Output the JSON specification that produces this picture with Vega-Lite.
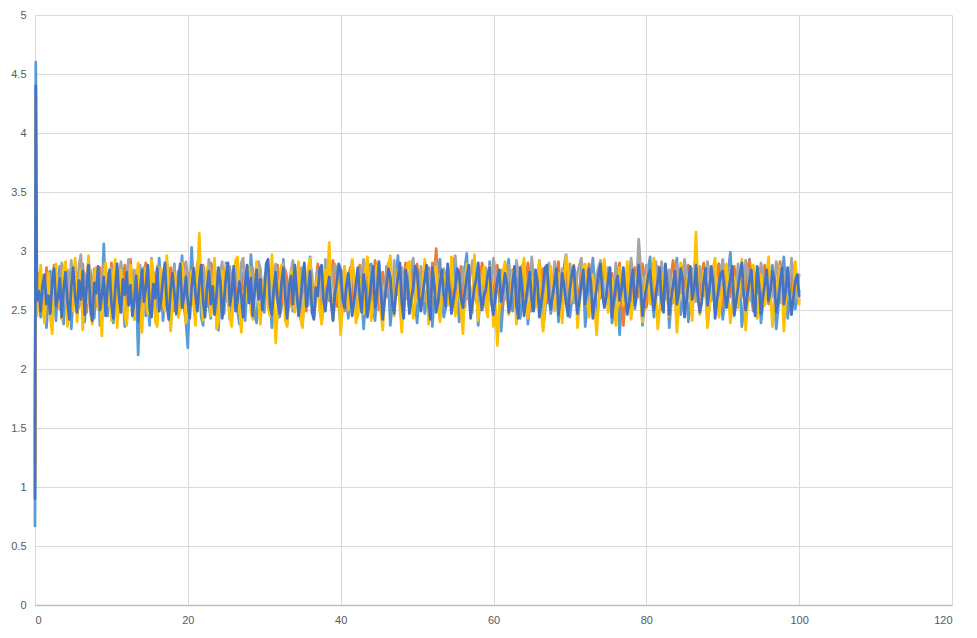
{
  "$schema": "https://vega.github.io/schema/vega-lite/v6.json",
  "width": 917,
  "height": 590,
  "autosize": {"type": "none"},
  "padding": {"left": 35, "top": 15, "right": 25, "bottom": 33},
  "background": "white",
  "config": {"view": {"stroke": null}},
  "data": {"values": [
{"x":0,"a":0.67,"b":1.2,"c":1.5,"d":1.0,"e":0.9},
{"x":0.1,"a":4.6,"b":3.5,"c":3.3,"d":4.3,"e":4.4},
{"x":0.25,"a":2.52,"b":2.66,"c":2.71,"d":2.45,"e":2.58},
{"x":0.5,"a":2.61,"b":2.81,"c":2.58,"d":2.70,"e":2.66},
{"x":0.75,"a":2.44,"b":2.57,"c":2.80,"d":2.88,"e":2.49},
{"x":1.0,"a":2.79,"b":2.73,"c":2.63,"d":2.52,"e":2.71},
{"x":1.25,"a":2.70,"b":2.49,"c":2.75,"d":2.39,"e":2.80},
{"x":1.5,"a":2.35,"b":2.86,"c":2.54,"d":2.67,"e":2.55},
{"x":1.75,"a":2.58,"b":2.62,"c":2.82,"d":2.81,"e":2.62},
{"x":2.0,"a":2.83,"b":2.54,"c":2.69,"d":2.44,"e":2.47},
{"x":2.25,"a":2.49,"b":2.77,"c":2.57,"d":2.30,"e":2.74},
{"x":2.5,"a":2.66,"b":2.88,"c":2.86,"d":2.73,"e":2.85},
{"x":2.75,"a":2.41,"b":2.59,"c":2.64,"d":2.89,"e":2.53},
{"x":3.0,"a":2.74,"b":2.70,"c":2.78,"d":2.55,"e":2.60},
{"x":3.25,"a":2.87,"b":2.51,"c":2.60,"d":2.62,"e":2.77},
{"x":3.5,"a":2.53,"b":2.83,"c":2.90,"d":2.42,"e":2.44},
{"x":3.75,"a":2.38,"b":2.66,"c":2.71,"d":2.85,"e":2.68},
{"x":4.0,"a":2.69,"b":2.78,"c":2.55,"d":2.91,"e":2.82},
{"x":4.25,"a":2.56,"b":2.46,"c":2.84,"d":2.36,"e":2.57},
{"x":4.5,"a":2.81,"b":2.72,"c":2.66,"d":2.58,"e":2.42},
{"x":4.75,"a":2.34,"b":2.85,"c":2.92,"d":2.77,"e":2.70},
{"x":5.0,"a":2.62,"b":2.55,"c":2.59,"d":2.49,"e":2.86},
{"x":5.25,"a":2.90,"b":2.69,"c":2.76,"d":2.94,"e":2.61},
{"x":5.5,"a":2.47,"b":2.80,"c":2.63,"d":2.40,"e":2.48},
{"x":5.75,"a":2.72,"b":2.52,"c":2.87,"d":2.68,"e":2.75},
{"x":6.0,"a":2.55,"b":2.75,"c":2.97,"d":2.83,"e":2.59},
{"x":6.25,"a":2.84,"b":2.89,"c":2.68,"d":2.33,"e":2.83},
{"x":6.5,"a":2.40,"b":2.60,"c":2.81,"d":2.71,"e":2.46},
{"x":6.75,"a":2.65,"b":2.48,"c":2.58,"d":2.56,"e":2.69},
{"x":7.0,"a":2.93,"b":2.71,"c":2.95,"d":2.96,"e":2.88},
{"x":7.25,"a":2.50,"b":2.84,"c":2.74,"d":2.47,"e":2.52},
{"x":7.5,"a":2.77,"b":2.63,"c":2.62,"d":2.38,"e":2.41},
{"x":7.75,"a":2.43,"b":2.79,"c":2.85,"d":2.79,"e":2.73},
{"x":8.0,"a":2.68,"b":2.53,"c":2.70,"d":2.86,"e":2.64},
{"x":8.25,"a":2.86,"b":2.68,"c":2.56,"d":2.51,"e":2.87},
{"x":8.5,"a":2.37,"b":2.86,"c":2.79,"d":2.64,"e":2.50},
{"x":8.75,"a":2.59,"b":2.58,"c":2.66,"d":2.28,"e":2.62},
{"x":9.0,"a":3.06,"b":2.74,"c":2.89,"d":2.75,"e":2.78},
{"x":9.25,"a":2.62,"b":2.50,"c":2.61,"d":2.90,"e":2.45},
{"x":9.5,"a":2.45,"b":2.81,"c":2.77,"d":2.54,"e":2.70},
{"x":9.75,"a":2.76,"b":2.67,"c":2.55,"d":2.69,"e":2.84},
{"x":10.0,"a":2.83,"b":2.90,"c":2.86,"d":2.41,"e":2.56},
{"x":10.25,"a":2.39,"b":2.56,"c":2.68,"d":2.80,"e":2.43},
{"x":10.5,"a":2.57,"b":2.72,"c":2.83,"d":2.93,"e":2.67},
{"x":10.75,"a":2.71,"b":2.47,"c":2.59,"d":2.35,"e":2.89},
{"x":11.0,"a":2.48,"b":2.83,"c":2.74,"d":2.61,"e":2.60},
{"x":11.25,"a":2.88,"b":2.62,"c":2.91,"d":2.84,"e":2.48},
{"x":11.5,"a":2.63,"b":2.76,"c":2.65,"d":2.72,"e":2.76},
{"x":11.75,"a":2.36,"b":2.88,"c":2.57,"d":2.46,"e":2.63},
{"x":12.0,"a":2.54,"b":2.55,"c":2.80,"d":2.37,"e":2.82},
{"x":12.25,"a":2.79,"b":2.69,"c":2.93,"d":2.66,"e":2.54},
{"x":12.5,"a":2.91,"b":2.93,"c":2.70,"d":2.88,"e":2.71},
{"x":12.75,"a":2.50,"b":2.61,"c":2.58,"d":2.59,"e":2.45},
{"x":13.0,"a":2.42,"b":2.48,"c":2.84,"d":2.42,"e":2.58},
{"x":13.25,"a":2.67,"b":2.78,"c":2.67,"d":2.75,"e":2.79},
{"x":13.5,"a":2.12,"b":2.84,"c":2.55,"d":2.90,"e":2.40},
{"x":13.75,"a":2.58,"b":2.64,"c":2.88,"d":2.53,"e":2.66},
{"x":14.0,"a":2.74,"b":2.52,"c":2.76,"d":2.31,"e":2.84},
{"x":14.25,"a":2.86,"b":2.79,"c":2.61,"d":2.68,"e":2.57},
{"x":14.5,"a":2.45,"b":2.90,"c":2.50,"d":2.86,"e":2.69},
{"x":14.75,"a":2.61,"b":2.58,"c":2.82,"d":2.47,"e":2.88},
{"x":15.0,"a":2.37,"b":2.70,"c":2.72,"d":2.62,"e":2.51},
{"x":15.25,"a":2.80,"b":2.47,"c":2.94,"d":2.92,"e":2.44},
{"x":15.5,"a":2.69,"b":2.82,"c":2.63,"d":2.78,"e":2.72},
{"x":15.75,"a":2.48,"b":2.66,"c":2.56,"d":2.40,"e":2.60},
{"x":16.0,"a":2.55,"b":2.87,"c":2.79,"d":2.36,"e":2.85},
{"x":16.25,"a":2.94,"b":2.59,"c":2.87,"d":2.73,"e":2.49},
{"x":16.5,"a":2.72,"b":2.74,"c":2.66,"d":2.85,"e":2.58},
{"x":16.75,"a":2.41,"b":2.51,"c":2.59,"d":2.57,"e":2.77},
{"x":17.0,"a":2.63,"b":2.80,"c":2.83,"d":2.49,"e":2.90},
{"x":17.25,"a":2.84,"b":2.68,"c":2.92,"d":2.96,"e":2.55},
{"x":17.5,"a":2.52,"b":2.60,"c":2.70,"d":2.64,"e":2.42},
{"x":17.75,"a":2.36,"b":2.86,"c":2.61,"d":2.32,"e":2.68},
{"x":18.0,"a":2.70,"b":2.73,"c":2.78,"d":2.58,"e":2.81},
{"x":18.25,"a":2.89,"b":2.49,"c":2.88,"d":2.81,"e":2.63},
{"x":18.5,"a":2.46,"b":2.64,"c":2.57,"d":2.69,"e":2.47},
{"x":18.75,"a":2.58,"b":2.83,"c":2.73,"d":2.44,"e":2.74},
{"x":19.0,"a":2.77,"b":2.57,"c":2.64,"d":2.51,"e":2.89},
{"x":19.25,"a":2.96,"b":2.77,"c":2.85,"d":2.90,"e":2.52},
{"x":19.5,"a":2.53,"b":2.89,"c":2.60,"d":2.76,"e":2.61},
{"x":19.75,"a":2.40,"b":2.62,"c":2.91,"d":2.39,"e":2.78},
{"x":20.0,"a":2.18,"b":2.81,"c":2.78,"d":2.46,"e":2.56},
{"x":20.25,"a":2.65,"b":2.55,"c":2.62,"d":2.67,"e":2.43},
{"x":20.5,"a":3.03,"b":2.70,"c":2.55,"d":2.83,"e":2.70},
{"x":20.75,"a":2.71,"b":2.86,"c":2.84,"d":2.55,"e":2.85},
{"x":21.0,"a":2.49,"b":2.52,"c":2.71,"d":2.37,"e":2.64},
{"x":21.25,"a":2.62,"b":2.67,"c":2.90,"d":2.79,"e":2.49},
{"x":21.5,"a":2.82,"b":2.79,"c":2.59,"d":3.15,"e":2.73},
{"x":21.75,"a":2.44,"b":2.61,"c":2.66,"d":2.62,"e":2.88},
{"x":22.0,"a":2.37,"b":2.88,"c":2.86,"d":2.41,"e":2.57},
{"x":22.25,"a":2.68,"b":2.74,"c":2.74,"d":2.52,"e":2.44},
{"x":22.5,"a":2.78,"b":2.53,"c":2.61,"d":2.86,"e":2.68},
{"x":22.75,"a":2.55,"b":2.65,"c":2.93,"d":2.73,"e":2.83},
{"x":23.0,"a":2.43,"b":2.90,"c":2.80,"d":2.45,"e":2.55},
{"x":23.25,"a":2.86,"b":2.78,"c":2.67,"d":2.59,"e":2.70},
{"x":23.5,"a":2.91,"b":2.56,"c":2.58,"d":2.94,"e":2.46},
{"x":23.75,"a":2.51,"b":2.72,"c":2.75,"d":2.34,"e":2.62},
{"x":24.0,"a":2.33,"b":2.85,"c":2.55,"d":2.40,"e":2.86},
{"x":24.25,"a":2.60,"b":2.63,"c":2.82,"d":2.71,"e":2.75},
{"x":24.5,"a":2.73,"b":2.50,"c":2.91,"d":2.83,"e":2.43},
{"x":24.75,"a":2.47,"b":2.76,"c":2.64,"d":2.56,"e":2.59},
{"x":25.0,"a":2.90,"b":2.87,"c":2.57,"d":2.88,"e":2.78},
{"x":25.25,"a":2.66,"b":2.69,"c":2.79,"d":2.61,"e":2.90},
{"x":25.5,"a":2.42,"b":2.54,"c":2.87,"d":2.43,"e":2.54},
{"x":25.75,"a":2.57,"b":2.81,"c":2.69,"d":2.36,"e":2.65},
{"x":26.0,"a":2.79,"b":2.70,"c":2.56,"d":2.74,"e":2.87},
{"x":26.25,"a":2.84,"b":2.58,"c":2.84,"d":2.92,"e":2.49},
{"x":26.5,"a":2.50,"b":2.89,"c":2.73,"d":2.95,"e":2.58},
{"x":26.75,"a":2.38,"b":2.64,"c":2.62,"d":2.50,"e":2.74},
{"x":27.0,"a":2.82,"b":2.77,"c":2.90,"d":2.31,"e":2.63},
{"x":27.25,"a":2.63,"b":2.51,"c":2.94,"d":2.66,"e":2.44},
{"x":27.5,"a":2.41,"b":2.68,"c":2.66,"d":2.58,"e":2.71},
{"x":27.75,"a":2.70,"b":2.84,"c":2.57,"d":2.80,"e":2.88},
{"x":28.0,"a":2.59,"b":2.73,"c":2.81,"d":2.87,"e":2.56},
{"x":28.25,"a":2.97,"b":2.55,"c":2.69,"d":2.48,"e":2.77},
{"x":28.5,"a":2.76,"b":2.49,"c":2.86,"d":2.42,"e":2.45},
{"x":28.75,"a":2.45,"b":2.80,"c":2.61,"d":2.69,"e":2.67},
{"x":29.0,"a":2.39,"b":2.66,"c":2.74,"d":2.91,"e":2.84},
{"x":29.25,"a":2.68,"b":2.90,"c":2.91,"d":2.56,"e":2.59},
{"x":29.5,"a":2.83,"b":2.62,"c":2.85,"d":2.38,"e":2.76},
{"x":29.75,"a":2.54,"b":2.75,"c":2.60,"d":2.64,"e":2.50},
{"x":30.0,"a":2.48,"b":2.56,"c":2.54,"d":2.77,"e":2.62},
{"x":30.25,"a":2.74,"b":2.83,"c":2.72,"d":2.83,"e":2.89},
{"x":30.5,"a":2.88,"b":2.71,"c":2.83,"d":2.52,"e":2.93},
{"x":30.75,"a":2.61,"b":2.60,"c":2.65,"d":2.45,"e":2.54},
{"x":31.0,"a":2.35,"b":2.50,"c":2.59,"d":2.97,"e":2.46},
{"x":31.25,"a":2.58,"b":2.79,"c":2.80,"d":2.60,"e":2.69},
{"x":31.5,"a":2.72,"b":2.66,"c":2.89,"d":2.22,"e":2.82},
{"x":31.75,"a":2.85,"b":2.88,"c":2.68,"d":2.51,"e":2.57},
{"x":32.0,"a":2.44,"b":2.58,"c":2.58,"d":2.74,"e":2.47},
{"x":32.25,"a":2.52,"b":2.73,"c":2.77,"d":2.88,"e":2.73},
{"x":32.5,"a":2.93,"b":2.55,"c":2.90,"d":2.79,"e":2.86},
{"x":32.75,"a":2.67,"b":2.84,"c":2.71,"d":2.41,"e":2.61},
{"x":33.0,"a":2.38,"b":2.76,"c":2.55,"d":2.36,"e":2.43},
{"x":33.25,"a":2.63,"b":2.52,"c":2.64,"d":2.69,"e":2.70},
{"x":33.5,"a":2.78,"b":2.67,"c":2.83,"d":2.83,"e":2.79},
{"x":33.75,"a":2.49,"b":2.90,"c":2.92,"d":2.56,"e":2.55},
{"x":34.0,"a":2.57,"b":2.81,"c":2.74,"d":2.48,"e":2.88},
{"x":34.25,"a":2.80,"b":2.59,"c":2.61,"d":2.78,"e":2.64},
{"x":34.5,"a":2.87,"b":2.69,"c":2.57,"d":2.91,"e":2.45},
{"x":34.75,"a":2.43,"b":2.85,"c":2.79,"d":2.44,"e":2.58},
{"x":35.0,"a":2.36,"b":2.74,"c":2.86,"d":2.35,"e":2.77},
{"x":35.25,"a":2.66,"b":2.56,"c":2.68,"d":2.62,"e":2.90},
{"x":35.5,"a":2.71,"b":2.49,"c":2.59,"d":2.70,"e":2.53},
{"x":35.75,"a":2.54,"b":2.78,"c":2.73,"d":2.86,"e":2.66},
{"x":36.0,"a":2.95,"b":2.83,"c":2.91,"d":2.94,"e":2.83},
{"x":36.25,"a":2.62,"b":2.63,"c":2.80,"d":2.55,"e":2.48},
{"x":36.5,"a":2.45,"b":2.57,"c":2.56,"d":2.43,"e":2.42},
{"x":36.75,"a":2.58,"b":2.72,"c":2.65,"d":2.68,"e":2.69},
{"x":37.0,"a":2.81,"b":2.89,"c":2.84,"d":2.79,"e":2.62},
{"x":37.25,"a":2.69,"b":2.75,"c":2.77,"d":2.50,"e":2.85},
{"x":37.5,"a":2.40,"b":2.51,"c":2.62,"d":2.38,"e":2.88},
{"x":37.75,"a":2.53,"b":2.66,"c":2.55,"d":2.63,"e":2.59},
{"x":38.0,"a":2.67,"b":2.82,"c":2.93,"d":2.84,"e":2.49},
{"x":38.25,"a":2.84,"b":2.70,"c":2.72,"d":2.71,"e":2.67},
{"x":38.5,"a":2.90,"b":2.58,"c":2.60,"d":3.07,"e":2.78},
{"x":38.75,"a":2.59,"b":2.77,"c":2.66,"d":2.60,"e":2.56},
{"x":39.0,"a":2.47,"b":2.92,"c":2.81,"d":2.42,"e":2.41},
{"x":39.25,"a":2.71,"b":2.69,"c":2.89,"d":2.57,"e":2.63},
{"x":39.5,"a":2.85,"b":2.53,"c":2.83,"d":2.80,"e":2.74},
{"x":39.75,"a":2.56,"b":2.64,"c":2.68,"d":2.66,"e":2.89},
{"x":40.0,"a":2.36,"b":2.84,"c":2.58,"d":2.29,"e":2.84},
{"x":40.25,"a":2.64,"b":2.74,"c":2.76,"d":2.53,"e":2.60},
{"x":40.5,"a":2.77,"b":2.49,"c":2.87,"d":2.87,"e":2.52},
{"x":40.75,"a":2.60,"b":2.60,"c":2.64,"d":2.75,"e":2.70},
{"x":41.0,"a":2.43,"b":2.78,"c":2.55,"d":2.50,"e":2.81},
{"x":41.25,"a":2.68,"b":2.86,"c":2.82,"d":2.64,"e":2.64},
{"x":41.5,"a":2.92,"b":2.67,"c":2.91,"d":2.93,"e":2.45},
{"x":41.75,"a":2.74,"b":2.56,"c":2.74,"d":2.81,"e":2.58},
{"x":42.0,"a":2.51,"b":2.63,"c":2.62,"d":2.39,"e":2.72},
{"x":42.25,"a":2.46,"b":2.79,"c":2.70,"d":2.46,"e":2.86},
{"x":42.5,"a":2.82,"b":2.88,"c":2.85,"d":2.76,"e":2.61},
{"x":42.75,"a":2.65,"b":2.70,"c":2.79,"d":2.60,"e":2.48},
{"x":43.0,"a":2.34,"b":2.52,"c":2.93,"d":2.47,"e":2.80},
{"x":43.25,"a":2.57,"b":2.66,"c":2.71,"d":2.85,"e":2.69},
{"x":43.5,"a":2.70,"b":2.83,"c":2.59,"d":2.95,"e":2.44},
{"x":43.75,"a":2.88,"b":2.74,"c":2.66,"d":2.68,"e":2.57},
{"x":44.0,"a":2.89,"b":2.58,"c":2.86,"d":2.41,"e":2.75},
{"x":44.25,"a":2.53,"b":2.69,"c":2.75,"d":2.55,"e":2.87},
{"x":44.5,"a":2.41,"b":2.92,"c":2.56,"d":2.72,"e":2.52},
{"x":44.75,"a":2.62,"b":2.80,"c":2.68,"d":2.88,"e":2.63},
{"x":45.0,"a":2.79,"b":2.50,"c":2.89,"d":2.83,"e":2.91},
{"x":45.25,"a":2.67,"b":2.64,"c":2.77,"d":2.49,"e":2.68},
{"x":45.5,"a":2.48,"b":2.82,"c":2.63,"d":2.33,"e":2.42},
{"x":45.75,"a":2.59,"b":2.71,"c":2.58,"d":2.59,"e":2.58},
{"x":46.0,"a":2.87,"b":2.61,"c":2.82,"d":2.67,"e":2.71},
{"x":46.25,"a":2.73,"b":2.77,"c":2.90,"d":2.86,"e":2.85},
{"x":46.5,"a":2.37,"b":2.87,"c":2.61,"d":2.96,"e":2.77},
{"x":46.75,"a":2.55,"b":2.66,"c":2.55,"d":2.61,"e":2.55},
{"x":47.0,"a":2.71,"b":2.53,"c":2.92,"d":2.45,"e":2.47},
{"x":47.25,"a":2.82,"b":2.70,"c":2.71,"d":2.70,"e":2.66},
{"x":47.5,"a":2.96,"b":2.84,"c":2.63,"d":2.84,"e":2.78},
{"x":47.75,"a":2.60,"b":2.62,"c":2.78,"d":2.53,"e":2.90},
{"x":48.0,"a":2.42,"b":2.57,"c":2.86,"d":2.31,"e":2.56},
{"x":48.25,"a":2.50,"b":2.76,"c":2.70,"d":2.58,"e":2.43},
{"x":48.5,"a":2.79,"b":2.90,"c":2.59,"d":2.76,"e":2.84},
{"x":48.75,"a":2.64,"b":2.68,"c":2.65,"d":2.89,"e":2.73},
{"x":49.0,"a":2.53,"b":2.51,"c":2.81,"d":2.91,"e":2.47},
{"x":49.25,"a":2.76,"b":2.64,"c":2.88,"d":2.62,"e":2.59},
{"x":49.5,"a":2.89,"b":2.78,"c":2.94,"d":2.43,"e":2.70},
{"x":49.75,"a":2.58,"b":2.85,"c":2.73,"d":2.57,"e":2.87},
{"x":50.0,"a":2.39,"b":2.89,"c":2.60,"d":2.77,"e":2.82},
{"x":50.25,"a":2.62,"b":2.71,"c":2.69,"d":2.65,"e":2.61},
{"x":50.5,"a":2.75,"b":2.56,"c":2.87,"d":2.50,"e":2.49},
{"x":50.75,"a":2.81,"b":2.67,"c":2.76,"d":2.74,"e":2.64},
{"x":51.0,"a":2.47,"b":2.82,"c":2.57,"d":2.93,"e":2.76},
{"x":51.25,"a":2.56,"b":2.75,"c":2.64,"d":2.81,"e":2.88},
{"x":51.5,"a":2.86,"b":2.60,"c":2.83,"d":2.38,"e":2.55},
{"x":51.75,"a":2.70,"b":2.70,"c":2.72,"d":2.49,"e":2.42},
{"x":52.0,"a":2.36,"b":2.90,"c":2.66,"d":2.67,"e":2.86},
{"x":52.25,"a":2.60,"b":2.79,"c":2.80,"d":2.79,"e":2.71},
{"x":52.5,"a":2.68,"b":3.02,"c":2.91,"d":2.87,"e":2.48},
{"x":52.75,"a":2.83,"b":2.73,"c":2.68,"d":2.56,"e":2.57},
{"x":53.0,"a":2.93,"b":2.55,"c":2.60,"d":2.40,"e":2.73},
{"x":53.25,"a":2.61,"b":2.66,"c":2.75,"d":2.63,"e":2.84},
{"x":53.5,"a":2.44,"b":2.84,"c":2.85,"d":2.80,"e":2.62},
{"x":53.75,"a":2.52,"b":2.77,"c":2.71,"d":2.71,"e":2.53},
{"x":54.0,"a":2.78,"b":2.64,"c":2.58,"d":2.54,"e":2.89},
{"x":54.25,"a":2.84,"b":2.79,"c":2.65,"d":2.66,"e":2.66},
{"x":54.5,"a":2.51,"b":2.89,"c":2.82,"d":2.95,"e":2.47},
{"x":54.75,"a":2.63,"b":2.68,"c":2.90,"d":2.72,"e":2.58},
{"x":55.0,"a":2.88,"b":2.53,"c":2.96,"d":2.45,"e":2.70},
{"x":55.25,"a":2.70,"b":2.62,"c":2.77,"d":2.59,"e":2.85},
{"x":55.5,"a":2.40,"b":2.76,"c":2.62,"d":2.74,"e":2.81},
{"x":55.75,"a":2.57,"b":2.87,"c":2.69,"d":2.51,"e":2.60},
{"x":56.0,"a":2.75,"b":2.63,"c":2.86,"d":2.30,"e":2.52},
{"x":56.25,"a":2.86,"b":2.52,"c":2.73,"d":2.66,"e":2.65},
{"x":56.5,"a":2.98,"b":2.85,"c":2.59,"d":2.89,"e":2.78},
{"x":56.75,"a":2.64,"b":2.74,"c":2.68,"d":2.77,"e":2.88},
{"x":57.0,"a":2.45,"b":2.50,"c":2.81,"d":2.62,"e":2.43},
{"x":57.25,"a":2.55,"b":2.66,"c":2.92,"d":2.48,"e":2.56},
{"x":57.5,"a":2.72,"b":2.80,"c":2.66,"d":2.97,"e":2.69},
{"x":57.75,"a":2.80,"b":2.71,"c":2.57,"d":2.65,"e":2.77},
{"x":58.0,"a":2.37,"b":2.63,"c":2.88,"d":2.41,"e":2.90},
{"x":58.25,"a":2.59,"b":2.77,"c":2.74,"d":2.58,"e":2.64},
{"x":58.5,"a":2.83,"b":2.90,"c":2.61,"d":2.79,"e":2.50},
{"x":58.75,"a":2.69,"b":2.82,"c":2.70,"d":2.86,"e":2.62},
{"x":59.0,"a":2.53,"b":2.57,"c":2.86,"d":2.52,"e":2.68},
{"x":59.25,"a":2.66,"b":2.68,"c":2.79,"d":2.44,"e":2.80},
{"x":59.5,"a":2.91,"b":2.83,"c":2.58,"d":2.87,"e":2.86},
{"x":59.75,"a":2.74,"b":2.72,"c":2.67,"d":2.70,"e":2.55},
{"x":60.0,"a":2.41,"b":2.61,"c":2.94,"d":2.36,"e":2.46},
{"x":60.25,"a":2.58,"b":2.79,"c":2.82,"d":2.55,"e":2.63},
{"x":60.5,"a":2.76,"b":2.88,"c":2.68,"d":2.20,"e":2.75},
{"x":60.75,"a":2.62,"b":2.65,"c":2.76,"d":2.48,"e":2.84},
{"x":61.0,"a":2.32,"b":2.52,"c":2.84,"d":2.73,"e":2.57},
{"x":61.25,"a":2.55,"b":2.70,"c":2.71,"d":2.82,"e":2.66},
{"x":61.5,"a":2.69,"b":2.78,"c":2.59,"d":2.91,"e":2.81},
{"x":61.75,"a":2.85,"b":2.85,"c":2.65,"d":2.64,"e":2.72},
{"x":62.0,"a":2.93,"b":2.59,"c":2.88,"d":2.46,"e":2.48},
{"x":62.25,"a":2.65,"b":2.67,"c":2.77,"d":2.59,"e":2.55},
{"x":62.5,"a":2.49,"b":2.84,"c":2.63,"d":2.83,"e":2.73},
{"x":62.75,"a":2.61,"b":2.74,"c":2.70,"d":2.71,"e":2.87},
{"x":63.0,"a":2.78,"b":2.54,"c":2.92,"d":2.38,"e":2.54},
{"x":63.25,"a":2.70,"b":2.64,"c":2.83,"d":2.52,"e":2.43},
{"x":63.5,"a":2.43,"b":2.80,"c":2.56,"d":2.70,"e":2.86},
{"x":63.75,"a":2.57,"b":2.88,"c":2.67,"d":2.85,"e":2.68},
{"x":64.0,"a":2.87,"b":2.62,"c":2.81,"d":2.94,"e":2.45},
{"x":64.25,"a":2.72,"b":2.73,"c":2.74,"d":2.60,"e":2.59},
{"x":64.5,"a":2.38,"b":2.90,"c":2.69,"d":2.43,"e":2.71},
{"x":64.75,"a":2.54,"b":2.79,"c":2.60,"d":2.58,"e":2.82},
{"x":65.0,"a":2.73,"b":2.49,"c":2.95,"d":2.78,"e":2.58},
{"x":65.25,"a":2.81,"b":2.61,"c":2.78,"d":2.66,"e":2.49},
{"x":65.5,"a":2.57,"b":2.75,"c":2.62,"d":2.52,"e":2.84},
{"x":65.75,"a":2.66,"b":2.83,"c":2.71,"d":2.75,"e":2.74},
{"x":66.0,"a":2.92,"b":2.59,"c":2.87,"d":2.92,"e":2.44},
{"x":66.25,"a":2.75,"b":2.68,"c":2.72,"d":2.47,"e":2.57},
{"x":66.5,"a":2.35,"b":2.85,"c":2.57,"d":2.32,"e":2.69},
{"x":66.75,"a":2.50,"b":2.77,"c":2.64,"d":2.58,"e":2.86},
{"x":67.0,"a":2.71,"b":2.56,"c":2.81,"d":2.71,"e":2.88},
{"x":67.25,"a":2.63,"b":2.66,"c":2.90,"d":2.80,"e":2.61},
{"x":67.5,"a":2.47,"b":2.82,"c":2.66,"d":2.87,"e":2.51},
{"x":67.75,"a":2.60,"b":2.72,"c":2.59,"d":2.63,"e":2.63},
{"x":68.0,"a":2.84,"b":2.64,"c":2.91,"d":2.49,"e":2.74},
{"x":68.25,"a":2.77,"b":2.79,"c":2.80,"d":2.67,"e":2.85},
{"x":68.5,"a":2.40,"b":2.91,"c":2.58,"d":2.81,"e":2.46},
{"x":68.75,"a":2.56,"b":2.69,"c":2.68,"d":2.55,"e":2.58},
{"x":69.0,"a":2.75,"b":2.51,"c":2.85,"d":2.39,"e":2.81},
{"x":69.25,"a":2.87,"b":2.65,"c":2.74,"d":2.72,"e":2.70},
{"x":69.5,"a":2.97,"b":2.77,"c":2.61,"d":2.96,"e":2.56},
{"x":69.75,"a":2.62,"b":2.86,"c":2.70,"d":2.84,"e":2.45},
{"x":70.0,"a":2.44,"b":2.61,"c":2.89,"d":2.56,"e":2.68},
{"x":70.25,"a":2.58,"b":2.73,"c":2.79,"d":2.61,"e":2.80},
{"x":70.5,"a":2.74,"b":2.88,"c":2.56,"d":2.84,"e":2.87},
{"x":70.75,"a":2.68,"b":2.78,"c":2.66,"d":2.70,"e":2.62},
{"x":71.0,"a":2.51,"b":2.54,"c":2.82,"d":2.35,"e":2.47},
{"x":71.25,"a":2.63,"b":2.67,"c":2.88,"d":2.54,"e":2.59},
{"x":71.5,"a":2.89,"b":2.81,"c":2.94,"d":2.74,"e":2.72},
{"x":71.75,"a":2.79,"b":2.70,"c":2.73,"d":2.87,"e":2.84},
{"x":72.0,"a":2.36,"b":2.63,"c":2.62,"d":2.89,"e":2.55},
{"x":72.25,"a":2.52,"b":2.76,"c":2.71,"d":2.59,"e":2.67},
{"x":72.5,"a":2.67,"b":2.89,"c":2.86,"d":2.44,"e":2.85},
{"x":72.75,"a":2.76,"b":2.66,"c":2.78,"d":2.62,"e":2.73},
{"x":73.0,"a":2.94,"b":2.50,"c":2.59,"d":2.80,"e":2.43},
{"x":73.25,"a":2.70,"b":2.61,"c":2.69,"d":2.51,"e":2.58},
{"x":73.5,"a":2.42,"b":2.78,"c":2.80,"d":2.29,"e":2.68},
{"x":73.75,"a":2.56,"b":2.85,"c":2.86,"d":2.57,"e":2.80},
{"x":74.0,"a":2.79,"b":2.60,"c":2.92,"d":2.67,"e":2.89},
{"x":74.25,"a":2.85,"b":2.72,"c":2.70,"d":2.81,"e":2.64},
{"x":74.5,"a":2.54,"b":2.87,"c":2.57,"d":2.93,"e":2.52},
{"x":74.75,"a":2.61,"b":2.76,"c":2.65,"d":2.72,"e":2.61},
{"x":75.0,"a":2.86,"b":2.55,"c":2.85,"d":2.48,"e":2.76},
{"x":75.25,"a":2.73,"b":2.64,"c":2.76,"d":2.60,"e":2.86},
{"x":75.5,"a":2.39,"b":2.81,"c":2.67,"d":2.77,"e":2.44},
{"x":75.75,"a":2.50,"b":2.70,"c":2.60,"d":2.63,"e":2.57},
{"x":76.0,"a":2.71,"b":2.62,"c":2.90,"d":2.37,"e":2.71},
{"x":76.25,"a":2.64,"b":2.77,"c":2.79,"d":2.56,"e":2.79},
{"x":76.5,"a":2.29,"b":2.90,"c":2.60,"d":2.86,"e":2.58},
{"x":76.75,"a":2.57,"b":2.55,"c":2.71,"d":2.74,"e":2.67},
{"x":77.0,"a":2.82,"b":2.37,"c":2.83,"d":2.54,"e":2.86},
{"x":77.25,"a":2.75,"b":2.63,"c":2.66,"d":2.68,"e":2.62},
{"x":77.5,"a":2.46,"b":2.75,"c":2.56,"d":2.91,"e":2.47},
{"x":77.75,"a":2.59,"b":2.84,"c":2.74,"d":2.63,"e":2.55},
{"x":78.0,"a":2.91,"b":2.57,"c":2.94,"d":2.42,"e":2.73},
{"x":78.25,"a":2.79,"b":2.68,"c":2.81,"d":2.57,"e":2.84},
{"x":78.5,"a":2.51,"b":2.86,"c":2.67,"d":2.72,"e":2.54},
{"x":78.75,"a":2.63,"b":2.77,"c":2.75,"d":2.80,"e":2.65},
{"x":79.0,"a":2.78,"b":2.61,"c":3.10,"d":2.85,"e":2.88},
{"x":79.25,"a":2.69,"b":2.71,"c":2.86,"d":2.58,"e":2.70},
{"x":79.5,"a":2.37,"b":2.89,"c":2.61,"d":2.40,"e":2.45},
{"x":79.75,"a":2.53,"b":2.79,"c":2.72,"d":2.61,"e":2.59},
{"x":80.0,"a":2.67,"b":2.52,"c":2.88,"d":2.79,"e":2.68},
{"x":80.25,"a":2.86,"b":2.64,"c":2.76,"d":2.70,"e":2.79},
{"x":80.5,"a":2.95,"b":2.79,"c":2.58,"d":2.55,"e":2.84},
{"x":80.75,"a":2.60,"b":2.70,"c":2.67,"d":2.78,"e":2.61},
{"x":81.0,"a":2.44,"b":2.59,"c":2.85,"d":2.94,"e":2.50},
{"x":81.25,"a":2.62,"b":2.73,"c":2.91,"d":2.62,"e":2.63},
{"x":81.5,"a":2.76,"b":2.87,"c":2.63,"d":2.34,"e":2.75},
{"x":81.75,"a":2.68,"b":2.74,"c":2.70,"d":2.51,"e":2.86},
{"x":82.0,"a":2.50,"b":2.55,"c":2.91,"d":2.69,"e":2.57},
{"x":82.25,"a":2.59,"b":2.68,"c":2.79,"d":2.80,"e":2.48},
{"x":82.5,"a":2.87,"b":2.83,"c":2.59,"d":2.88,"e":2.89},
{"x":82.75,"a":2.74,"b":2.73,"c":2.66,"d":2.64,"e":2.70},
{"x":83.0,"a":2.35,"b":2.64,"c":2.84,"d":2.45,"e":2.46},
{"x":83.25,"a":2.55,"b":2.80,"c":2.73,"d":2.58,"e":2.60},
{"x":83.5,"a":2.73,"b":2.92,"c":2.56,"d":2.76,"e":2.71},
{"x":83.75,"a":2.82,"b":2.77,"c":2.65,"d":2.61,"e":2.83},
{"x":84.0,"a":2.94,"b":2.54,"c":2.89,"d":2.31,"e":2.55},
{"x":84.25,"a":2.63,"b":2.66,"c":2.78,"d":2.55,"e":2.64},
{"x":84.5,"a":2.46,"b":2.80,"c":2.64,"d":2.90,"e":2.85},
{"x":84.75,"a":2.58,"b":2.87,"c":2.72,"d":2.73,"e":2.76},
{"x":85.0,"a":2.81,"b":2.61,"c":2.93,"d":2.51,"e":2.44},
{"x":85.25,"a":2.70,"b":2.71,"c":2.81,"d":2.66,"e":2.58},
{"x":85.5,"a":2.40,"b":2.88,"c":2.60,"d":2.80,"e":2.73},
{"x":85.75,"a":2.56,"b":2.76,"c":2.69,"d":2.60,"e":2.87},
{"x":86.0,"a":2.75,"b":2.51,"c":2.85,"d":2.41,"e":2.59},
{"x":86.25,"a":2.84,"b":2.65,"c":2.76,"d":2.77,"e":2.68},
{"x":86.5,"a":2.98,"b":2.77,"c":2.57,"d":3.16,"e":2.88},
{"x":86.75,"a":2.66,"b":2.85,"c":2.68,"d":2.70,"e":2.62},
{"x":87.0,"a":2.48,"b":2.63,"c":2.87,"d":2.46,"e":2.48},
{"x":87.25,"a":2.61,"b":2.74,"c":2.77,"d":2.59,"e":2.57},
{"x":87.5,"a":2.84,"b":2.90,"c":2.62,"d":2.83,"e":2.74},
{"x":87.75,"a":2.72,"b":2.79,"c":2.71,"d":2.67,"e":2.85},
{"x":88.0,"a":2.38,"b":2.56,"c":2.91,"d":2.35,"e":2.54},
{"x":88.25,"a":2.53,"b":2.69,"c":2.82,"d":2.52,"e":2.66},
{"x":88.5,"a":2.71,"b":2.82,"c":2.58,"d":2.75,"e":2.87},
{"x":88.75,"a":2.64,"b":2.72,"c":2.67,"d":2.86,"e":2.72},
{"x":89.0,"a":2.55,"b":2.62,"c":2.84,"d":2.94,"e":2.43},
{"x":89.25,"a":2.76,"b":2.78,"c":2.73,"d":2.63,"e":2.58},
{"x":89.5,"a":2.89,"b":2.89,"c":2.65,"d":2.44,"e":2.71},
{"x":89.75,"a":2.60,"b":2.67,"c":2.79,"d":2.58,"e":2.81},
{"x":90.0,"a":2.42,"b":2.53,"c":2.93,"d":2.72,"e":2.83},
{"x":90.25,"a":2.57,"b":2.70,"c":2.80,"d":2.83,"e":2.63},
{"x":90.5,"a":2.77,"b":2.81,"c":2.59,"d":2.89,"e":2.52},
{"x":90.75,"a":2.85,"b":2.75,"c":2.69,"d":2.61,"e":2.66},
{"x":91.0,"a":2.99,"b":2.61,"c":2.86,"d":2.39,"e":2.77},
{"x":91.25,"a":2.68,"b":2.72,"c":2.74,"d":2.55,"e":2.87},
{"x":91.5,"a":2.45,"b":2.87,"c":2.56,"d":2.78,"e":2.46},
{"x":91.75,"a":2.59,"b":2.77,"c":2.66,"d":2.66,"e":2.57},
{"x":92.0,"a":2.80,"b":2.54,"c":2.89,"d":2.52,"e":2.69},
{"x":92.25,"a":2.71,"b":2.66,"c":2.79,"d":2.74,"e":2.80},
{"x":92.5,"a":2.36,"b":2.79,"c":2.62,"d":2.93,"e":2.90},
{"x":92.75,"a":2.52,"b":2.86,"c":2.71,"d":2.69,"e":2.62},
{"x":93.0,"a":2.72,"b":2.63,"c":2.92,"d":2.33,"e":2.50},
{"x":93.25,"a":2.83,"b":2.75,"c":2.83,"d":2.56,"e":2.64},
{"x":93.5,"a":2.93,"b":2.92,"c":2.58,"d":2.71,"e":2.75},
{"x":93.75,"a":2.61,"b":2.80,"c":2.67,"d":2.80,"e":2.84},
{"x":94.0,"a":2.49,"b":2.52,"c":2.83,"d":2.88,"e":2.56},
{"x":94.25,"a":2.64,"b":2.67,"c":2.75,"d":2.62,"e":2.45},
{"x":94.5,"a":2.83,"b":2.78,"c":2.64,"d":2.43,"e":2.87},
{"x":94.75,"a":2.73,"b":2.85,"c":2.70,"d":2.60,"e":2.72},
{"x":95.0,"a":2.39,"b":2.60,"c":2.90,"d":2.80,"e":2.47},
{"x":95.25,"a":2.55,"b":2.74,"c":2.81,"d":2.68,"e":2.60},
{"x":95.5,"a":2.74,"b":2.88,"c":2.57,"d":2.54,"e":2.72},
{"x":95.75,"a":2.66,"b":2.79,"c":2.68,"d":2.75,"e":2.84},
{"x":96.0,"a":2.56,"b":2.55,"c":2.85,"d":2.95,"e":2.58},
{"x":96.25,"a":2.78,"b":2.66,"c":2.77,"d":2.64,"e":2.67},
{"x":96.5,"a":2.88,"b":2.83,"c":2.61,"d":2.36,"e":2.83},
{"x":96.75,"a":2.62,"b":2.75,"c":2.70,"d":2.57,"e":2.76},
{"x":97.0,"a":2.34,"b":2.64,"c":2.91,"d":2.73,"e":2.48},
{"x":97.25,"a":2.51,"b":2.77,"c":2.80,"d":2.62,"e":2.57},
{"x":97.5,"a":2.70,"b":2.91,"c":2.56,"d":2.87,"e":2.73},
{"x":97.75,"a":2.81,"b":2.80,"c":2.66,"d":2.70,"e":2.86},
{"x":98.0,"a":2.95,"b":2.53,"c":2.82,"d":2.32,"e":2.55},
{"x":98.25,"a":2.67,"b":2.68,"c":2.74,"d":2.59,"e":2.66},
{"x":98.5,"a":2.43,"b":2.80,"c":2.63,"d":2.81,"e":2.86},
{"x":98.75,"a":2.58,"b":2.72,"c":2.71,"d":2.66,"e":2.63},
{"x":99.0,"a":2.81,"b":2.62,"c":2.94,"d":2.47,"e":2.46},
{"x":99.25,"a":2.72,"b":2.76,"c":2.81,"d":2.63,"e":2.61},
{"x":99.5,"a":2.51,"b":2.87,"c":2.59,"d":2.91,"e":2.75},
{"x":99.75,"a":2.60,"b":2.70,"c":2.68,"d":2.72,"e":2.80},
{"x":100.0,"a":2.66,"b":2.58,"c":2.80,"d":2.55,"e":2.62}
  ]},
  "transform": [{"fold": ["a", "b", "c", "d", "e"], "as": ["series", "value"]}],
  "mark": {"type": "line", "strokeWidth": 2.75, "strokeJoin": "round", "strokeCap": "round"},
  "encoding": {
    "x": {
      "field": "x", "type": "quantitative",
      "scale": {"domain": [0, 120], "nice": false, "zero": false},
      "axis": {
        "values": [0, 20, 40, 60, 80, 100, 120], "title": null, "grid": true,
        "gridColor": "#D9D9D9", "gridWidth": 1, "domainColor": "#BFBFBF", "domainWidth": 1.5,
        "ticks": false, "labelColor": "#595959", "labelFontSize": 11,
        "labelFont": "Liberation Sans", "labelPadding": 9, "format": "d"
      }
    },
    "y": {
      "field": "value", "type": "quantitative",
      "scale": {"domain": [0, 5], "nice": false},
      "axis": {
        "values": [0, 0.5, 1, 1.5, 2, 2.5, 3, 3.5, 4, 4.5, 5], "title": null, "grid": true,
        "gridColor": "#D9D9D9", "gridWidth": 1, "domain": false, "ticks": false,
        "labelColor": "#595959", "labelFontSize": 11, "labelFont": "Liberation Sans",
        "labelPadding": 9, "format": "~r"
      }
    },
    "color": {
      "field": "series", "type": "nominal",
      "scale": {"domain": ["a", "b", "c", "d", "e"], "range": ["#5B9BD5", "#ED7D31", "#A5A5A5", "#FFC000", "#4472C4"]},
      "legend": null
    }
  }
}
